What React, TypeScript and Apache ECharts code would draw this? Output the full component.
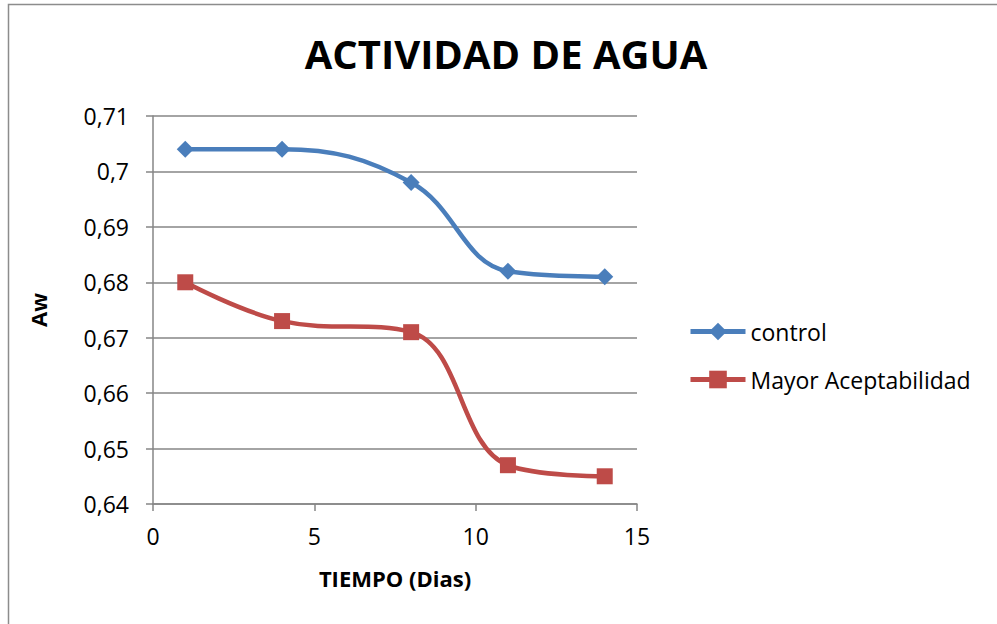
import React, { useEffect, useRef } from "react";
import * as echarts from "echarts";

const days = [1, 4, 8, 11, 14];
const controlValues = [0.704, 0.704, 0.698, 0.682, 0.681];
const mayorValues = [0.68, 0.673, 0.671, 0.647, 0.645];
const seriesNames = ["control", "Mayor Aceptabilidad"];
const titleText = "ACTIVIDAD DE AGUA";
const xName = "TIEMPO (Dias)";
const yName = "Aw";

const FONT = "'Open Sans', 'Liberation Sans', sans-serif";

export default function App() {
  const ref = useRef<HTMLDivElement>(null);
  useEffect(() => {
    if (!ref.current) return;
    const chart = echarts.init(ref.current, null, { renderer: "svg" });
    const fmt = (v: number) => Number(v.toFixed(2)).toString().replace(".", ",");
    chart.setOption({
      animation: false,
      backgroundColor: "#ffffff",
      textStyle: { fontFamily: FONT },
      title: {
        text: titleText,
        left: 501,
        top: 28,
        textAlign: "center",
        textStyle: { fontFamily: FONT, fontSize: 40, fontWeight: "bold", color: "#000" },
      },
      graphic: [
        {
          type: "rect",
          shape: { x: 8.5, y: 4.5, width: 1200, height: 1200 },
          style: { fill: "none", stroke: "#8c8c8c", lineWidth: 1.5 },
          silent: true,
        },
      ],
      legend: {
        orient: "vertical",
        left: 688,
        top: 320,
        padding: 0,
        itemGap: 25,
        itemWidth: 55,
        itemHeight: 22,
        lineStyle: { width: 5 },
        textStyle: { fontFamily: FONT, fontSize: 23, color: "#000" },
        data: seriesNames,
      },
      grid: { left: 153, right: 360, top: 116, bottom: 120, containLabel: false },
      xAxis: {
        type: "value",
        min: 0,
        max: 15,
        interval: 5,
        name: xName,
        nameLocation: "middle",
        nameGap: 63,
        nameTextStyle: { fontFamily: FONT, fontSize: 22, fontWeight: "bold", color: "#000" },
        axisLine: { show: true, lineStyle: { color: "#868686", width: 1.5 } },
        axisTick: { show: true, length: 7, lineStyle: { color: "#868686", width: 1.5 } },
        axisLabel: { fontFamily: FONT, fontSize: 23, color: "#000", margin: 20 },
        splitLine: { show: false },
      },
      yAxis: {
        type: "value",
        min: 0.64,
        max: 0.71,
        interval: 0.01,
        name: yName,
        nameLocation: "middle",
        nameGap: 104,
        nameRotate: 90,
        nameTextStyle: { fontFamily: FONT, fontSize: 22, fontWeight: "bold", color: "#000" },
        axisLine: { show: true, lineStyle: { color: "#868686", width: 1.5 } },
        axisTick: { show: true, length: 7, lineStyle: { color: "#868686", width: 1.5 } },
        axisLabel: { fontFamily: FONT, fontSize: 23, color: "#000", margin: 24, formatter: fmt },
        splitLine: { show: true, lineStyle: { color: "#868686", width: 1.5 } },
      },
      series: [
        {
          name: seriesNames[0],
          type: "line",
          smooth: 0.4,
          data: days.map((d, i) => [d, controlValues[i]]),
          symbol: "diamond",
          symbolSize: 17,
          lineStyle: { color: "#4A7EBB", width: 4.5 },
          itemStyle: { color: "#4A7EBB" },
        },
        {
          name: seriesNames[1],
          type: "line",
          smooth: 0.4,
          data: days.map((d, i) => [d, mayorValues[i]]),
          symbol: "rect",
          symbolSize: 16,
          lineStyle: { color: "#BE4B48", width: 4.5 },
          itemStyle: { color: "#BE4B48" },
        },
      ],
    });
    return () => chart.dispose();
  }, []);
  return <div ref={ref} style={{ width: 997, height: 624, position: "absolute", left: 0, top: 0 }} />;
}
